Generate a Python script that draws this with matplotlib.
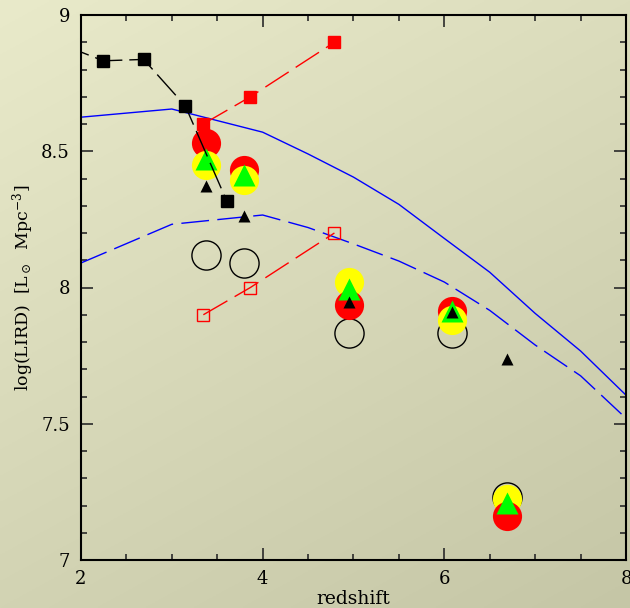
import numpy as np
import matplotlib
matplotlib.use("Agg")
import matplotlib.pyplot as plt

# --- data -------------------------------------------------------------
# model curves (solid and dashed blue)
z_model = [2.0, 3.0, 4.0, 4.5, 5.0, 5.5, 6.0, 6.5, 7.0, 7.5, 8.0]
lird_model_solid = [8.625, 8.655, 8.57, 8.49, 8.405, 8.305, 8.18, 8.056, 7.905, 7.767, 7.605]
lird_model_dashed = [8.09, 8.232, 8.266, 8.22, 8.16, 8.097, 8.02, 7.916, 7.789, 7.676, 7.52]

# black squares joined by a dashed line
z_black_sq = [1.8, 2.246, 2.69, 3.149, 3.605]
lird_black_sq = [8.89, 8.832, 8.837, 8.666, 8.317]

# red filled / open squares
z_red_sq = [3.347, 3.865, 4.79]
lird_red_filled = [8.6, 8.7, 8.9]
lird_red_open = [7.9, 8.0, 8.2]

# estimates at the five redshift bins
z_bins = [3.38, 3.80, 4.95, 6.08, 6.69]
lird_red = [8.531, 8.431, 7.936, 7.915, 7.163]
lird_yellow = [8.45, 8.394, 8.021, 7.881, 7.225]
lird_green = [8.47, 8.414, 7.993, 7.912, 7.21]
lird_black_tri = [8.374, 8.262, 7.947, 7.909, 7.738]
lird_open = [8.119, 8.091, 7.832, 7.832, 7.232]

x_ticklabels = ["2", "4", "6", "8"]
y_ticklabels = ["7", "7.5", "8", "8.5", "9"]

# --- figure -------------------------------------------------------------
W, H, DPI = 630, 608, 100
fig = plt.figure(figsize=(W / DPI, H / DPI), dpi=DPI)

plt.rcParams["font.family"] = ["DejaVu Serif"]
plt.rcParams["mathtext.fontset"] = "dejavuserif"

# diagonal beige gradient behind everything
bg = fig.add_axes([0, 0, 1, 1], zorder=-10)
u = np.linspace(0, 1, 256)[None, :]
v = np.linspace(0, 1, 256)[:, None]
tl = np.array([233, 234, 202]) / 255.0
tr = np.array([220, 221, 189]) / 255.0
bl = np.array([210, 211, 179]) / 255.0
grad = tl[None, None, :] + (tr - tl)[None, None, :] * u[..., None] + (bl - tl)[None, None, :] * v[..., None]
bg.imshow(np.clip(grad, 0, 1), aspect="auto", extent=[0, 1, 0, 1], origin="upper")
bg.axis("off")

ax = fig.add_axes([81 / W, 1 - 560 / H, (626 - 81) / W, (560 - 15) / H])
ax.set_facecolor("none")

# model curves
ax.plot(z_model, lird_model_solid, color="#0000ff", lw=1.0, zorder=2)
ax.plot(z_model, lird_model_dashed, color="#0000ff", lw=1.0, dashes=(20, 6), zorder=2)

# red squares
ax.plot(z_red_sq, lird_red_filled, color="#ff0000", lw=1.0, dashes=(20, 6),
        marker="s", ms=8, mfc="#ff0000", mec="#ff0000", zorder=3)
ax.plot(z_red_sq, lird_red_open, color="#ff0000", lw=1.0, dashes=(20, 6),
        marker="s", ms=8.5, mfc="none", mec="#ff0000", mew=1.0, zorder=3)

# open circles
ax.plot(z_bins, lird_open, ls="none", marker="o", ms=21, mfc="none",
        mec="black", mew=1.0, zorder=4)

# red / yellow discs: the lower disc of each bin sits on top
for z, yr, yy in zip(z_bins, lird_red, lird_yellow):
    pair = sorted([(yr, "#ff0000"), (yy, "#ffff00")], key=lambda p: -p[0])
    for k, (yv, col) in enumerate(pair):
        ax.plot([z], [yv], ls="none", marker="o", ms=21, mfc=col, mec="none",
                zorder=5 + 0.1 * k)

ax.plot(z_bins, lird_green, ls="none", marker="^", ms=16.5, mfc="#00ff00",
        mec="none", zorder=6)

# black squares
ax.plot(z_black_sq, lird_black_sq, color="black", lw=1.0, dashes=(20, 5),
        marker="s", ms=8.8, mfc="black", mec="black", zorder=7)

ax.plot(z_bins, lird_black_tri, ls="none", marker="^", ms=8.5, mfc="black",
        mec="none", zorder=8)

# axes
ax.set_xlim(2, 8)
ax.set_ylim(7, 9)
ax.set_xticks([2, 4, 6, 8])
ax.set_xticklabels(x_ticklabels)
ax.set_yticks([7, 7.5, 8, 8.5, 9])
ax.set_yticklabels(y_ticklabels)
ax.set_xticks(np.arange(2, 8.01, 0.5), minor=True)
ax.set_yticks(np.arange(7, 9.001, 0.1), minor=True)
ax.tick_params(which="both", direction="in", top=True, right=True,
               color="#2a2a2a", width=1.2, labelsize=13)
ax.tick_params(which="major", length=8.6, pad=8)
ax.tick_params(which="minor", length=4.3)
ax.tick_params(axis="x", which="major", pad=7)
for sp in ax.spines.values():
    sp.set_linewidth(1.5)
    sp.set_color("black")

ax.set_xlabel("redshift", fontsize=13.5, labelpad=1.5)
ax.set_ylabel(r"log(LIRD)  [L$_\odot$  Mpc$^{-3}$]", fontsize=12.5, labelpad=4)

fig.savefig("out.png", dpi=DPI)
